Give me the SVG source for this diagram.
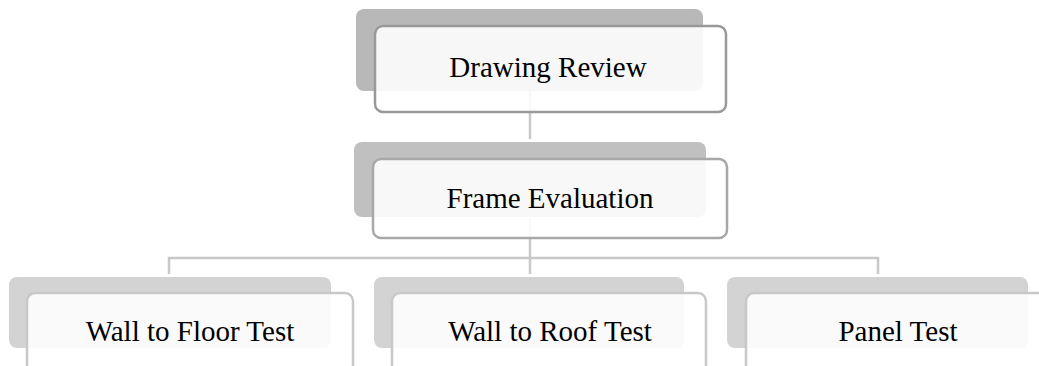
<svg xmlns="http://www.w3.org/2000/svg" width="1039" height="366" viewBox="0 0 1039 366">
<style>
.back{stroke:none}
.front{fill:#ffffff;fill-opacity:0.88;stroke-width:2.5}
.lbl{font-family:"Liberation Serif","Times New Roman",serif;font-size:29px;fill:#000;text-anchor:middle}
.conn{stroke:#c8c8c8;stroke-width:2.5;fill:none}
</style>
<rect width="1039" height="366" fill="#ffffff"/>
<g id="connectors">
<line class="conn" x1="530" y1="91" x2="530" y2="139"/>
<line class="conn" x1="530" y1="218" x2="530" y2="274"/>
<polyline class="conn" points="169,274 169,258 878,258 878,274"/>
</g>
<g id="node-drawing-review">
<rect class="back" x="356" y="9" width="347" height="82" rx="8" fill="#b8b8b8"/>
<rect class="front" x="375" y="26" width="351" height="86" rx="8" stroke="#999999"/>
<text class="lbl" x="548" y="77">Drawing Review</text>
</g>
<g id="node-frame-evaluation">
<rect class="back" x="354" y="142" width="352" height="75" rx="8" fill="#c0c0c0"/>
<rect class="front" x="373" y="159" width="354" height="79" rx="8" stroke="#a8a8a8"/>
<text class="lbl" x="550" y="208">Frame Evaluation</text>
</g>
<g id="node-wall-floor">
<rect class="back" x="9" y="277" width="322" height="71" rx="8" fill="#d3d3d3"/>
<rect class="front" x="27" y="293" width="326" height="90" rx="8" stroke="#c8c8c8"/>
<text class="lbl" x="190" y="341">Wall to Floor Test</text>
</g>
<g id="node-wall-roof">
<rect class="back" x="374" y="277" width="310" height="71" rx="8" fill="#d3d3d3"/>
<rect class="front" x="392" y="293" width="314" height="90" rx="8" stroke="#c8c8c8"/>
<text class="lbl" x="550" y="341">Wall to Roof Test</text>
</g>
<g id="node-panel">
<rect class="back" x="727" y="277" width="301" height="71" rx="8" fill="#d3d3d3"/>
<rect class="front" x="746" y="293" width="320" height="90" rx="8" stroke="#c8c8c8"/>
<text class="lbl" x="898" y="341">Panel Test</text>
</g>
</svg>
